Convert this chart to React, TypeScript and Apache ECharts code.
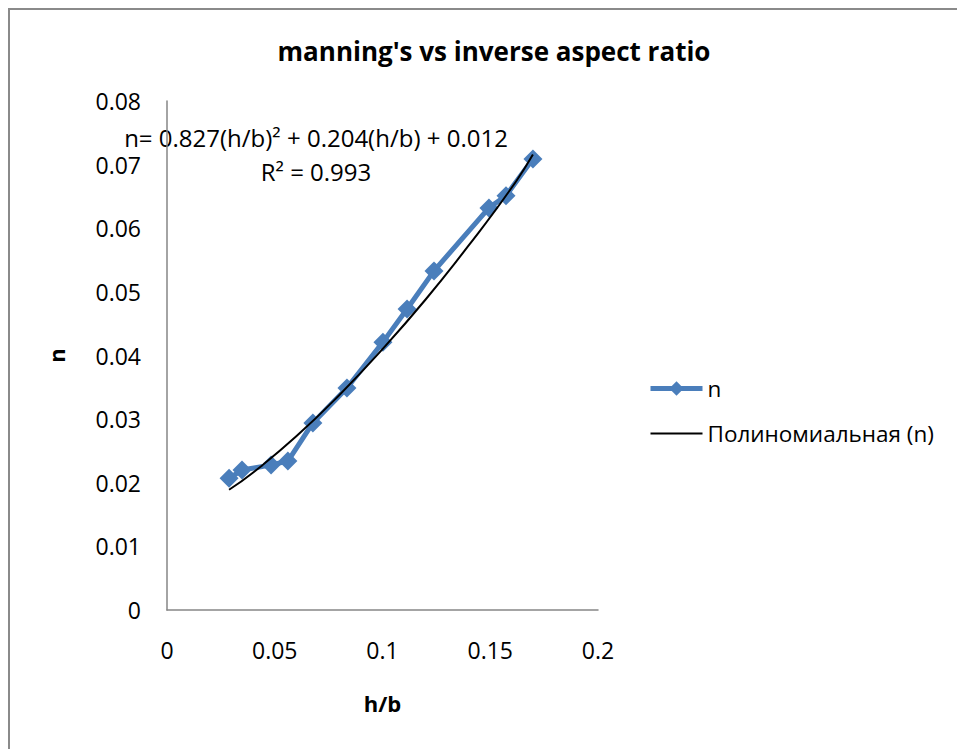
import React, { useEffect, useRef } from "react";
import * as echarts from "echarts";

const hbValues = [0.0288, 0.0348, 0.0483, 0.0561, 0.0677, 0.0835, 0.1002, 0.1114, 0.1239, 0.1494, 0.1573, 0.1698];
const nValues = [0.0207, 0.022, 0.0228, 0.0234, 0.0294, 0.0349, 0.0421, 0.0473, 0.0533, 0.0632, 0.0651, 0.0709];
const trendX = [0.0288, 0.04, 0.06, 0.08, 0.1, 0.12, 0.14, 0.16, 0.1698];
const trendY = [0.0189, 0.0216, 0.0273, 0.0338, 0.041, 0.0488, 0.0573, 0.0664, 0.0716];
const titleText = "manning's vs inverse aspect ratio";
const equationText = "n= 0.827(h/b)\u00B2 + 0.204(h/b) + 0.012";
const r2Text = "R\u00B2 = 0.993";
const seriesName = "n";
const trendName = "Полиномиальная (n)";

const FONT = "'Open Sans', sans-serif";

export default function App() {
  const ref = useRef<HTMLDivElement>(null);
  useEffect(() => {
    if (!ref.current) return;
    const chart = echarts.init(ref.current, undefined, { renderer: "svg" });
    const data = hbValues.map((x, i) => [x, nValues[i]]);
    const trend = trendX.map((x, i) => [x, trendY[i]]);
    chart.setOption({
      animation: false,
      backgroundColor: "#ffffff",
      title: {
        text: titleText,
        left: 479,
        top: 23,
        textAlign: "center",
        textStyle: { fontFamily: FONT, fontWeight: "bold", fontSize: 26, color: "#000" },
      },
      grid: { left: 157, top: 91, right: 359, bottom: 139 },
      xAxis: {
        type: "value",
        min: 0,
        max: 0.2,
        interval: 0.05,
        name: "h/b",
        nameLocation: "middle",
        nameGap: 82,
        nameTextStyle: { fontFamily: FONT, fontWeight: "bold", fontSize: 22, color: "#000" },
        axisLine: { show: true, lineStyle: { color: "#868686", width: 1.5 } },
        axisTick: { show: false },
        splitLine: { show: false },
        axisLabel: { fontFamily: FONT, fontSize: 23, color: "#000", margin: 28 },
      },
      yAxis: {
        type: "value",
        min: 0,
        max: 0.08,
        interval: 0.01,
        name: "n",
        nameLocation: "middle",
        nameGap: 100,
        nameTextStyle: { fontFamily: FONT, fontWeight: "bold", fontSize: 22, color: "#000" },
        axisLine: { show: true, lineStyle: { color: "#868686", width: 1.5 } },
        axisTick: { show: false },
        splitLine: { show: false },
        axisLabel: { fontFamily: FONT, fontSize: 23, color: "#000", margin: 26 },
      },
      legend: {
        orient: "vertical",
        left: 633,
        top: 362,
        itemWidth: 52,
        itemHeight: 18,
        itemGap: 22,
        textStyle: { fontFamily: FONT, fontSize: 22.5, color: "#000" },
        data: [
          { name: seriesName, lineStyle: { width: 5 } },
          { name: trendName, itemStyle: { opacity: 0 }, lineStyle: { width: 2 } },
        ],
      },
      series: [
        {
          name: seriesName,
          type: "line",
          data,
          symbol: "diamond",
          symbolSize: 19,
          lineStyle: { color: "#4A7EBB", width: 5 },
          itemStyle: { color: "#4A7EBB" },
          z: 2,
        },
        {
          name: trendName,
          type: "line",
          data: trend,
          symbol: "none",
          smooth: true,
          lineStyle: { color: "#000", width: 2 },
          itemStyle: { color: "#000" },
          z: 3,
        },
      ],
      graphic: [
        {
          type: "text",
          x: 306,
          y: 127,
          style: {
            text: equationText,
            fontFamily: FONT,
            fontSize: 24,
            fill: "#000",
            align: "center",
            verticalAlign: "middle",
          },
        },
        {
          type: "text",
          x: 306,
          y: 161,
          style: {
            text: r2Text,
            fontFamily: FONT,
            fontSize: 24,
            fill: "#000",
            align: "center",
            verticalAlign: "middle",
          },
        },
      ],
    });
    return () => chart.dispose();
  }, []);
  return (
    <div
      style={{
        position: "fixed",
        left: 8,
        top: 8,
        width: 949,
        height: 741,
        boxSizing: "border-box",
        borderTop: "2px solid #8a8a8a",
        borderLeft: "2px solid #8a8a8a",
        background: "#fff",
      }}
    >
      <div ref={ref} style={{ width: 947, height: 739 }} />
    </div>
  );
}
